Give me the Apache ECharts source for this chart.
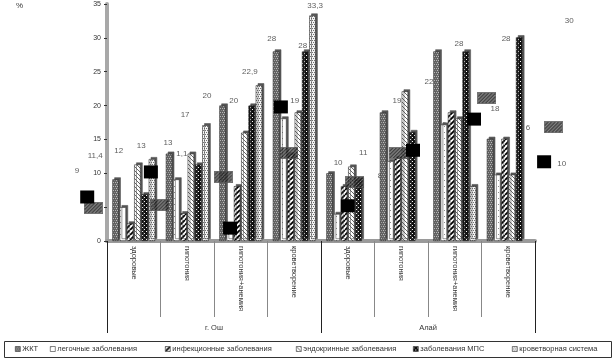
<!DOCTYPE html>
<html>
<head>
<meta charset="utf-8">
<script src="https://cdn.jsdelivr.net/npm/echarts@6/dist/echarts.min.js"></script>
<style>
	html, body { margin: 0; padding: 0; background: #fff; }
	#chart { width: 615px; height: 360px; }
</style>
</head>
<body>
<div id="chart"></div>
<script>
var categories = ['здоровые', 'гипотония', 'гипотония+анемия', 'кроветворение',
	'здоровые', 'гипотония', 'гипотония+анемия', 'кроветворение'];
var regions = ['г. Ош', 'Алай'];
var seriesNames = ['ЖКТ', 'легочные заболевания', 'инфекционные заболевания',
	'эндокринные заболевания', 'заболевания МПС', 'кроветворная система'];

// values per series, one per category
var gkt = [9.1, 12.9, 20, 28, 10, 19, 28, 15.1];
var lung = [5, 9.1, 1.5, 18.1, 4, 11.8, 17.2, 9.8];
var infect = [2.6, 4.1, 8.1, 12.8, 8.1, 12.2, 19, 15.1];
var endo = [11.3, 12.9, 16, 19, 11, 22.1, 18.1, 9.8];
var mps = [6.9, 11.3, 20, 28, 9.1, 16.1, 28, 30.1];
var blood = [12.1, 17.1, 23, 33.3, null, null, 8.1, null];

// loose markers and numbers scattered over the chart (x in category units)
var blackX = [-0.87, 0.32, 1.80, 2.75, 4.00, 5.22, 6.36, 7.67];
var blackY = [6.5, 10.2, 1.9, 19.8, 5.2, 13.4, 18.0, 11.7];
var hatchX = [-0.76, 0.49, 1.67, 2.90, 4.12, 4.94, 6.60, 7.84];
var hatchY = [4.9, 5.3, 9.5, 13.0, 8.7, 13.0, 21.1, 16.8];

var noteText = ['12', '13', '11,4', '9', '13', '1,1', '17', '20', '20', '22,9', '28', '19', '28',
	'33,3', '10', '11', '8', '19', '22', '16', '28', '18', '28', '6', '30', '10'];
var noteX = [-0.28, 0.14, -0.72, -1.06, 0.64, 0.90, 0.96, 1.37, 1.87, 2.17, 2.58, 3.01, 3.16,
	3.39, 3.82, 4.29, 4.60, 4.92, 5.52, 5.76, 6.08, 6.75, 6.96, 7.37, 8.14, 8.00];
var noteY = [13.3, 14.0, 12.6, 10.3, 14.5, 12.9, 18.6, 21.4, 20.7, 25.0, 29.8, 20.7, 28.8,
	34.7, 11.5, 13.0, 9.6, 20.7, 23.5, 17.1, 29.1, 19.5, 29.8, 16.7, 32.5, 11.4];

var values = [gkt, lung, infect, endo, mps, blood];
var legendLeft = [15, 50, 165, 296, 413, 512];

// small canvas fills, to imitate the printed hatch patterns
function makeCanvas(w, h, bg) {
	var c = document.createElement('canvas');
	c.width = w;
	c.height = h;
	var ctx = c.getContext('2d');
	ctx.fillStyle = bg;
	ctx.fillRect(0, 0, w, h);
	return c;
}
function pattern(size, bg, draw) {
	var c = makeCanvas(size, size, bg);
	draw(c.getContext('2d'), size);
	return { image: c, repeat: 'repeat' };
}
function dots(col, step) {
	return function (ctx, s) {
		ctx.fillStyle = col;
		for (var x = 0; x < s; x += step) {
			for (var y = 0; y < s; y += step) {
				ctx.fillRect(x + ((y / step) % 2 ? step / 2 : 0), y, 1, 1);
			}
		}
	};
}
function slash(col, w, dir) {
	return function (ctx, s) {
		ctx.strokeStyle = col;
		ctx.lineWidth = w;
		ctx.beginPath();
		for (var k = -1; k <= 1; k++) {
			if (dir > 0) {
				ctx.moveTo(k * s, s);
				ctx.lineTo(k * s + s, 0);
			} else {
				ctx.moveTo(k * s, 0);
				ctx.lineTo(k * s + s, s);
			}
		}
		ctx.stroke();
	};
}

var fills = [
	pattern(4, '#666666', dots('#bdbdbd', 2)),
	pattern(6, '#ffffff', dots('#8a8a8a', 6)),
	pattern(5, '#ffffff', slash('#000', 1.8, 1)),
	pattern(4, '#ffffff', slash('#555', 0.9, -1)),
	pattern(4, '#111111', function (ctx) { ctx.fillStyle = '#fff'; ctx.fillRect(0, 1, 1, 1); ctx.fillRect(2, 3, 1, 1); }),
	pattern(4, '#f4f4f4', dots('#707070', 2))
];

// hatched marker image, drawn at its final pixel size
var hatchCanvas = makeCanvas(19, 12, '#161616');
(function () {
	var ctx = hatchCanvas.getContext('2d');
	ctx.strokeStyle = '#9c9c9c';
	ctx.lineWidth = 0.9;
	ctx.beginPath();
	for (var x = -12; x < 19; x += 3.5) {
		ctx.moveTo(x, 12);
		ctx.lineTo(x + 12, 0);
	}
	ctx.stroke();
	ctx.strokeStyle = '#555';
	ctx.strokeRect(0.5, 0.5, 18, 11);
})();
var hatchSymbol = 'image://' + hatchCanvas.toDataURL();

var series = [];
for (var i = 0; i < seriesNames.length; i++) {
	series.push({
		name: seriesNames[i],
		type: 'bar',
		xAxisIndex: 0,
		yAxisIndex: 0,
		data: values[i],
		barWidth: 6.5,
		barGap: '12%',
		z: 2,
		itemStyle: {
			color: fills[i],
			borderColor: '#333',
			borderWidth: 0.6,
			shadowColor: '#555',
			shadowOffsetX: 2,
			shadowOffsetY: -2,
			shadowBlur: 0
		}
	});
}

var notes = [];
for (var i = 0; i < noteText.length; i++) {
	notes.push([noteX[i], noteY[i], noteText[i]]);
}
var blackPts = [];
var hatchPts = [];
for (var i = 0; i < blackX.length; i++) {
	blackPts.push([blackX[i], blackY[i]]);
	hatchPts.push([hatchX[i], hatchY[i]]);
}

series.push({
	type: 'scatter',
	xAxisIndex: 2,
	yAxisIndex: 0,
	data: notes,
	clip: false,
	silent: true,
	z: 1,
	symbolSize: 1,
	itemStyle: { color: 'rgba(0,0,0,0)' },
	label: {
		show: true,
		position: 'inside',
		formatter: function (p) { return p.data[2]; },
		fontSize: 8,
		color: '#333',
		fontFamily: 'Liberation Sans'
	}
});
series.push({
	type: 'scatter',
	xAxisIndex: 2,
	yAxisIndex: 0,
	data: hatchPts,
	clip: false,
	silent: true,
	z: 5,
	symbol: hatchSymbol,
	symbolSize: [19, 12]
});
series.push({
	type: 'scatter',
	xAxisIndex: 2,
	yAxisIndex: 0,
	data: blackPts,
	clip: false,
	silent: true,
	z: 6,
	symbol: 'rect',
	symbolSize: [14, 13],
	itemStyle: { color: '#000', opacity: 1 }
});

var legends = [];
for (var i = 0; i < seriesNames.length; i++) {
	legends.push({
		data: [seriesNames[i]],
		left: legendLeft[i],
		top: 345,
		icon: 'rect',
		itemWidth: 5,
		itemHeight: 5,
		itemGap: 2,
		padding: 0,
		selectedMode: false,
		itemStyle: { borderColor: '#333', borderWidth: 0.6, shadowColor: 'transparent' },
		textStyle: { fontSize: 7.5, color: '#333', padding: [0, 0, 0, -3], fontFamily: 'Liberation Sans' }
	});
}

var chart = echarts.init(document.getElementById('chart'), null, { renderer: 'canvas' });
var option = {
	animation: false,
	backgroundColor: '#fff',
	textStyle: { fontFamily: 'Liberation Sans' },
	title: {
		text: '%',
		left: 11,
		top: -3,
		textStyle: { fontSize: 8, fontWeight: 'normal', color: '#333' }
	},
	legend: legends,
	grid: {
		left: 107,
		right: 80,
		top: 4,
		bottom: 119,
		outerBoundsMode: 'none'
	},
	xAxis: [{
		type: 'category',
		data: categories,
		position: 'bottom',
		axisLine: { lineStyle: { color: '#9a9a9a', width: 4 } },
		axisTick: { show: true, interval: 0, length: 76, lineStyle: { color: '#888' } },
		axisLabel: { interval: 0, rotate: -90, fontSize: 7.5, color: '#333', margin: 5 },
		splitLine: { show: false }
	}, {
		type: 'category',
		data: regions,
		position: 'bottom',
		axisLine: { show: false },
		axisTick: { show: true, length: 92, lineStyle: { color: '#222' } },
		axisLabel: { fontSize: 7.5, color: '#333', margin: 83 },
		splitLine: { show: false }
	}, {
		type: 'value',
		min: -0.5,
		max: 7.5,
		show: false
	}],
	yAxis: {
		type: 'value',
		min: 0,
		max: 35,
		interval: 5,
		axisLine: { show: true, onZero: false, lineStyle: { color: '#a8a8a8', width: 4 } },
		axisTick: { show: true, length: 3, lineStyle: { color: '#333' } },
		axisLabel: {
			fontSize: 7,
			color: '#333',
			margin: 6,
			formatter: function (v) { return v === 5 ? '' : v; }
		},
		splitLine: { show: false }
	},
	graphic: [{
		type: 'rect',
		shape: { x: 4.5, y: 341.5, width: 607, height: 16 },
		style: { fill: 'none', stroke: '#333', lineWidth: 1 },
		silent: true,
		z: -1
	}],
	series: series
};
chart.setOption(option);
</script>
</body>
</html>
